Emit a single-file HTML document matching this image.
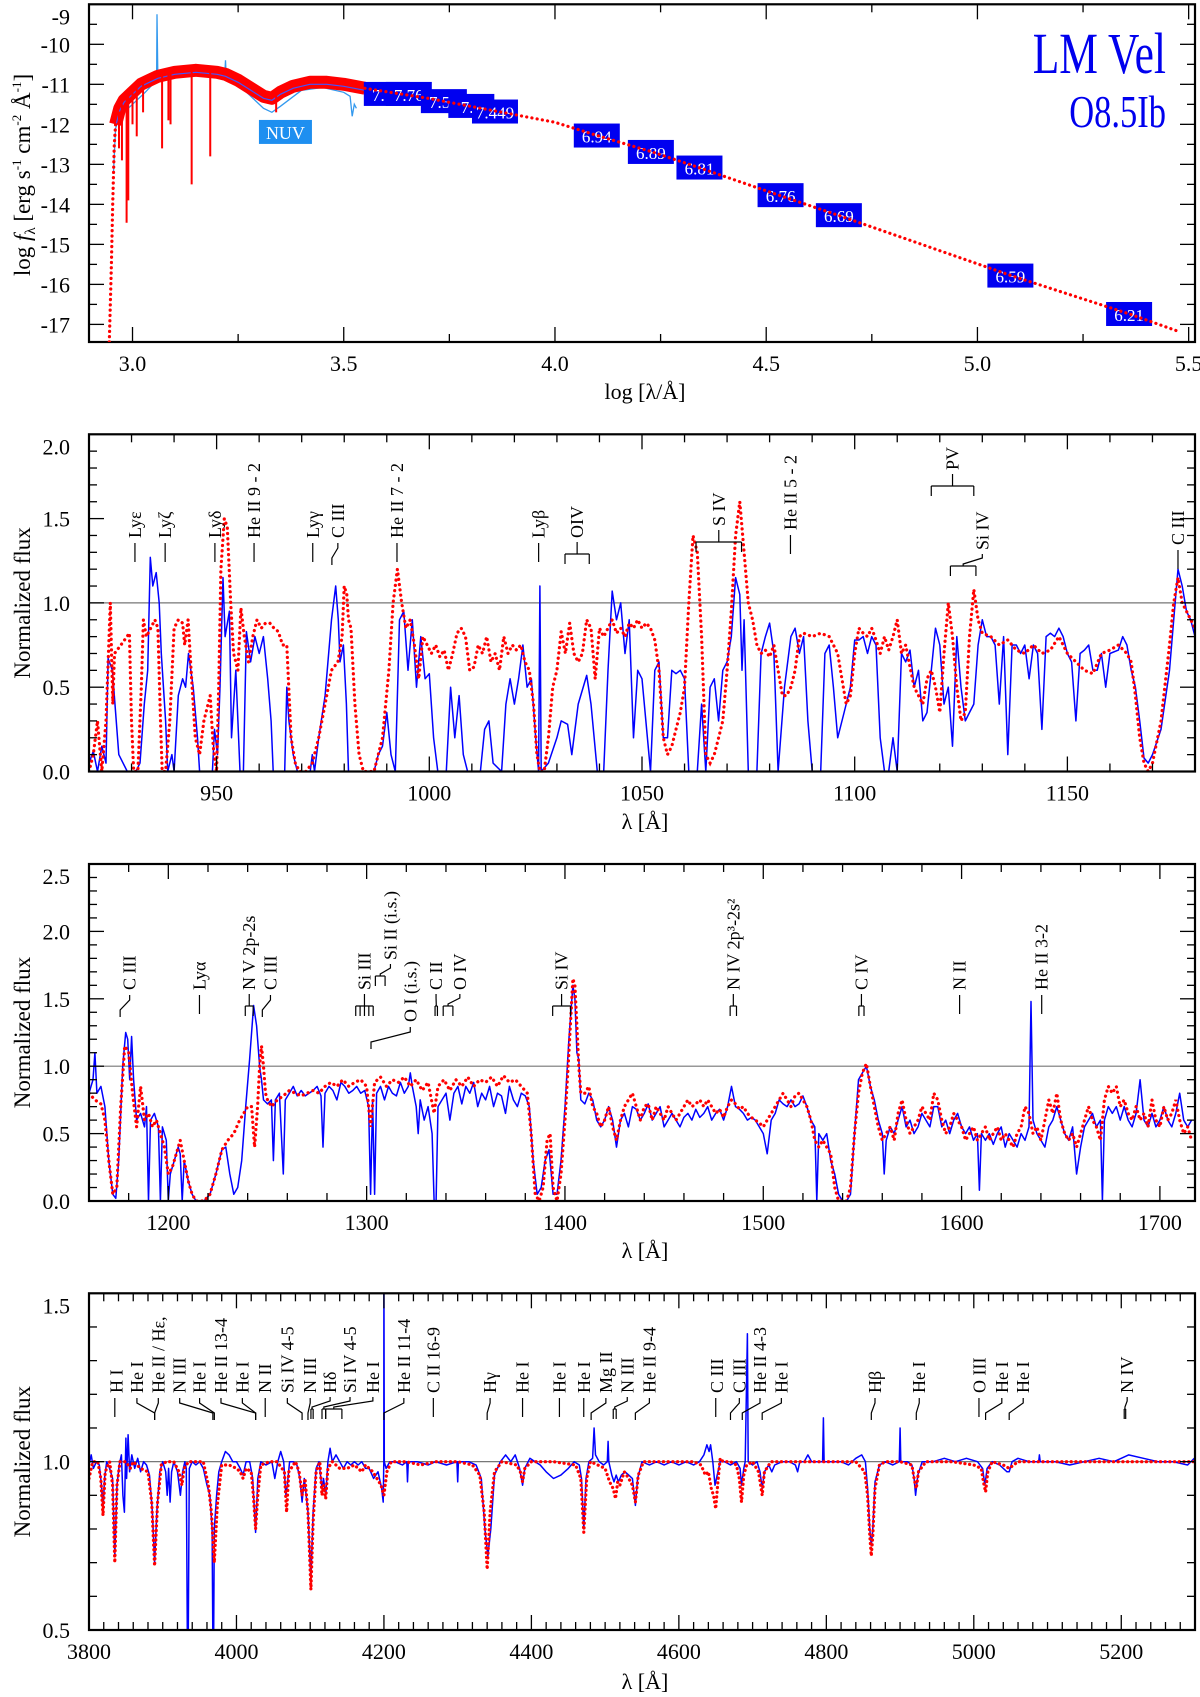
<!DOCTYPE html>
<html><head><meta charset="utf-8"><title>LM Vel SED and spectra</title>
<style>
html,body{margin:0;padding:0;background:#fff;}
svg{display:block;font-family:"Liberation Serif",serif;}
text{font-family:"Liberation Serif",serif;}
</style></head>
<body>
<svg id="fig" width="1200" height="1697" viewBox="0 0 1200 1697" font-family="Liberation Serif, serif" xmlns="http://www.w3.org/2000/svg"></svg>
<script>
// ---------------- Panel 1 (SED) data ----------------
const sedBandLogW=[2.96,2.965,2.97,2.98,2.99,3.0,3.02,3.04,3.06,3.08,3.1,3.15,3.2,3.22,3.25,3.28,3.31,3.33,3.35,3.38,3.42,3.46,3.5,3.55];
const sedBandLogF=[-12.0,-11.8,-11.6,-11.4,-11.3,-11.2,-11.0,-10.9,-10.8,-10.75,-10.7,-10.65,-10.7,-10.75,-10.9,-11.1,-11.3,-11.35,-11.2,-11.05,-10.95,-10.95,-11.0,-11.1];
const sedDipLogW=[2.968,2.975,2.986,2.99,3.0,3.01,3.025,3.07,3.085,3.09,3.14,3.184,3.34];
const sedDipLogF=[-12.6,-12.9,-14.46,-13.9,-12.0,-12.3,-11.7,-12.6,-11.9,-12.0,-13.5,-12.8,-11.7];
const sedRiseLogW=[2.945,2.95,2.953,2.957,2.96];
const sedRiseLogF=[-17.44,-15.5,-14.0,-12.5,-12.0];
const sedModelLogW=[3.55,3.7,3.85,4.0,4.1,4.23,4.34,4.53,4.67,5.08,5.36,5.48];
const sedModelLogF=[-11.1,-11.35,-11.65,-11.95,-12.28,-12.69,-13.08,-13.77,-14.27,-15.78,-16.74,-17.19];
const sedObsLogW=[2.955,2.96,2.97,2.98,3.0,3.03,3.057,3.058,3.06,3.1,3.15,3.2,3.218,3.22,3.222,3.25,3.28,3.31,3.33,3.35,3.4,3.45,3.5,3.515,3.52,3.525,3.53];
const sedObsLogF=[-13.2,-12.1,-11.8,-11.7,-11.5,-11.2,-10.9,-9.25,-10.9,-10.8,-10.75,-10.8,-10.85,-10.4,-10.85,-11.0,-11.3,-11.6,-11.7,-11.55,-11.15,-11.08,-11.2,-11.3,-11.8,-11.5,-11.6];
const photLogW=[3.602,3.654,3.737,3.802,3.858,4.099,4.227,4.342,4.534,4.672,5.078,5.359];
const photLogF=[-11.24,-11.24,-11.42,-11.54,-11.68,-12.28,-12.69,-13.08,-13.77,-14.27,-15.78,-16.74];
const photLabels=["7.71","7.76","7.57","7.7","7.449","6.94","6.89","6.81","6.76","6.69","6.59","6.21"];

// ---------------- Panel 2 (FUV 920-1180) data ----------------
const p2Obs=[[920,0.05],[921,0.12],[922,0.0],[923,0.15],[924,0.05],[924.5,0.67],[925.5,0.6],[927,0.1],[929,0.0],[931,0.0],[932,0.05],[933,0.4],[933.8,0.6],[934.4,1.27],[935,1.1],[935.8,1.18],[936.5,1.0],[937,0.7],[938,0.3],[938.5,0.0],[939.5,0.1],[940,0.0],[941,0.45],[942,0.55],[942.7,0.5],[943.4,0.7],[944.5,0.5],[945.5,0.2],[946,0.0],[949,0.0],[949.5,0.25],[950.2,0.1],[950.8,0.5],[951.5,1.15],[952,0.8],[953,0.95],[953.5,0.2],[954.5,0.6],[955.5,0.0],[956.3,0.0],[957,0.83],[958,0.65],[959,0.8],[960,0.7],[961,0.8],[962,0.55],[962.8,0.3],[963.3,0.0],[966,0.0],[966.5,0.5],[967,0.3],[968,0.1],[969,0.0],[972,0.0],[972.5,0.1],[973,0.0],[974,0.2],[975.5,0.45],[977,0.9],[978,1.1],[978.6,0.9],[979,0.65],[979.8,0.75],[980.5,0.4],[981,0.0],[987,0.0],[988,0.1],[989,0.15],[990,0.35],[991,0.1],[992,0.0],[993,0.9],[994,0.95],[995,0.6],[996,0.9],[997,0.5],[998,0.8],[999,0.55],[1000,0.58],[1001,0.2],[1002,0.0],[1004,0.0],[1005,0.5],[1006,0.2],[1007,0.45],[1008,0.1],[1009,0.0],[1012,0.0],[1013,0.25],[1014,0.3],[1015,0.05],[1017,0.0],[1018,0.4],[1019,0.55],[1020,0.4],[1021,0.55],[1022,0.75],[1023,0.5],[1024,0.55],[1025,0.2],[1025.7,0.0],[1026,1.1],[1026.3,0.0],[1028,0.05],[1030,0.2],[1031,0.3],[1032.5,0.28],[1033.5,0.1],[1035,0.4],[1037,0.57],[1038,0.4],[1039.5,0.0],[1041,0.0],[1042,0.6],[1043,1.07],[1044,0.9],[1045,1.0],[1046,0.7],[1047,0.9],[1048,0.2],[1049,0.6],[1050,0.55],[1052,0.0],[1053,0.6],[1054,0.65],[1055,0.2],[1056,0.2],[1057,0.6],[1058,0.58],[1059,0.6],[1060,0.55],[1061,0.0],[1063,0.0],[1064,0.4],[1065,0.0],[1066,0.5],[1067,0.55],[1068,0.3],[1069,0.6],[1070,0.65],[1071,0.8],[1072,1.15],[1073,1.05],[1073.5,0.6],[1074,0.9],[1075,0.0],[1077,0.0],[1078,0.7],[1079,0.8],[1080,0.88],[1081,0.7],[1082,0.0],[1083.5,0.5],[1085,0.8],[1086,0.85],[1087,0.7],[1088,0.8],[1089,0.3],[1090,0.0],[1092,0.0],[1093,0.7],[1094,0.75],[1095,0.5],[1096,0.2],[1097.5,0.35],[1099,0.5],[1100,0.78],[1101,0.78],[1102,0.8],[1103,0.7],[1104,0.8],[1105,0.75],[1106,0.2],[1107,0.0],[1108,0.0],[1109,0.2],[1110,0.0],[1111,0.7],[1112,0.65],[1113,0.72],[1114,0.5],[1115,0.6],[1116,0.3],[1117,0.35],[1118,0.6],[1119,0.85],[1120,0.75],[1121,0.4],[1122,0.5],[1123,0.15],[1124,0.8],[1125,0.5],[1126,0.3],[1127,0.35],[1128,0.4],[1129,0.75],[1130,0.9],[1131,0.8],[1132,0.8],[1133,0.75],[1134,0.4],[1135,0.8],[1136,0.1],[1137,0.75],[1138,0.75],[1139,0.7],[1140,0.75],[1141,0.55],[1142,0.75],[1143,0.7],[1144,0.25],[1145,0.8],[1146,0.82],[1147,0.8],[1148,0.85],[1149,0.8],[1150,0.7],[1151,0.65],[1152,0.3],[1153,0.7],[1154,0.72],[1155,0.75],[1156,0.6],[1157,0.6],[1158,0.7],[1159,0.5],[1160,0.7],[1162,0.72],[1163,0.8],[1164,0.75],[1165,0.6],[1166,0.5],[1167,0.3],[1168,0.08],[1169,0.05],[1170,0.1],[1172,0.25],[1174,0.6],[1175,0.9],[1176,1.2],[1177,1.1],[1178,0.95],[1179,0.9],[1180,0.8]];
const p2Model=[[920,0.0],[921,0.1],[922,0.3],[923,0.0],[924,0.3],[925,1.0],[925.6,0.4],[926,0.7],[927.5,0.75],[929.5,0.82],[930,0.3],[930.5,0.0],[931.5,0.0],[932.3,0.5],[932.8,0.9],[933.5,0.8],[934.5,0.85],[935.5,0.9],[936.2,0.85],[936.8,0.3],[937.2,0.0],[938,0.0],[939,0.3],[940,0.85],[941,0.9],[942,0.88],[942.5,0.75],[943.3,0.9],[944,0.6],[945,0.2],[946,0.1],[947,0.3],[948.5,0.45],[949.2,0.15],[950,0.0],[950.5,0.5],[951,1.2],[951.8,1.5],[952.5,1.45],[953.3,1.0],[954,0.7],[955,0.6],[955.7,0.97],[956.5,0.8],[957.5,0.65],[958.5,0.8],[959.5,0.9],[960.5,0.85],[961.5,0.88],[962.5,0.88],[963.5,0.85],[964.5,0.83],[965.5,0.75],[966.5,0.75],[967.5,0.2],[968.5,0.05],[969.5,0.0],[971,0.0],[972.5,0.05],[974,0.2],[975.5,0.4],[977,0.6],[978.5,0.65],[979.5,0.8],[980,1.1],[980.6,1.05],[981,0.9],[981.6,0.85],[982.5,0.4],[983.5,0.1],[984.5,0.0],[987,0.0],[989,0.2],[990.5,0.6],[991.5,1.0],[992.5,1.2],[993.5,1.0],[994.5,0.85],[995.5,0.9],[996.5,0.75],[997.5,0.55],[998.5,0.8],[999.5,0.75],[1000.5,0.7],[1001.5,0.75],[1002.5,0.68],[1003.5,0.72],[1004.5,0.6],[1005.5,0.7],[1006.5,0.82],[1007.5,0.85],[1008.5,0.8],[1009.5,0.6],[1010.5,0.62],[1011.5,0.75],[1012.5,0.7],[1013.5,0.8],[1014.5,0.65],[1015.5,0.7],[1016.5,0.6],[1017.5,0.8],[1018.5,0.7],[1019.5,0.75],[1020.5,0.72],[1021.5,0.75],[1022.5,0.65],[1023.5,0.6],[1024.5,0.4],[1025.3,0.1],[1026,0.0],[1027,0.0],[1028,0.2],[1029,0.5],[1030,0.6],[1031,0.83],[1032,0.7],[1033,0.88],[1034,0.7],[1035,0.65],[1036,0.7],[1037,0.9],[1038,0.85],[1039,0.55],[1040,0.85],[1041,0.8],[1042,0.85],[1043,0.9],[1044,0.82],[1045,0.85],[1046,0.8],[1047,0.88],[1048,0.85],[1049,0.9],[1050,0.85],[1051,0.88],[1052,0.85],[1053,0.78],[1054,0.6],[1055,0.2],[1056,0.1],[1057,0.15],[1058,0.25],[1059,0.35],[1060,0.5],[1061,1.0],[1062,1.4],[1063,1.3],[1064,0.8],[1065,0.1],[1066,0.05],[1067,0.1],[1068,0.2],[1069,0.3],[1070,0.6],[1071,0.95],[1072,1.4],[1073,1.6],[1074,1.3],[1075,1.0],[1076,0.9],[1077,0.75],[1078,0.7],[1079,0.72],[1080,0.68],[1081,0.75],[1082,0.6],[1083,0.45],[1084,0.45],[1085,0.5],[1086,0.6],[1087,0.8],[1088,0.82],[1090,0.8],[1092,0.82],[1094,0.8],[1096,0.7],[1097,0.55],[1098,0.4],[1099,0.45],[1100,0.7],[1101,0.85],[1102,0.82],[1103,0.8],[1104,0.85],[1105,0.78],[1106,0.7],[1107,0.8],[1108,0.72],[1109,0.8],[1110,0.9],[1111,0.7],[1112,0.75],[1113,0.62],[1114,0.5],[1115,0.45],[1116,0.4],[1117,0.55],[1118,0.6],[1119,0.5],[1120,0.35],[1121,0.7],[1122,1.0],[1123,0.8],[1124,0.5],[1125,0.3],[1126,0.35],[1127,0.8],[1128,1.08],[1129,0.9],[1130,0.82],[1132,0.8],[1134,0.75],[1136,0.78],[1138,0.72],[1140,0.7],[1142,0.75],[1144,0.7],[1146,0.72],[1148,0.8],[1150,0.7],[1152,0.65],[1154,0.6],[1156,0.58],[1158,0.7],[1160,0.72],[1162,0.75],[1164,0.7],[1165,0.65],[1166,0.45],[1167,0.2],[1168,0.05],[1169,0.0],[1170,0.05],[1172,0.3],[1174,0.75],[1175,1.0],[1176,1.15],[1177,1.0],[1178,0.95],[1180,0.85]];
const p2Labels=[
 {w:930.8,t:"Lyε"},{w:937.9,t:"Lyζ"},{w:949.6,t:"Lyδ"},{w:958.8,t:"He II 9 - 2"},
 {w:972.6,t:"Lyγ"},{w:977.1,t:"C III",tw:978.5},{w:992.4,t:"He II 7 - 2"},{w:1025.7,t:"Lyβ"},
 {w:[1031.9,1037.6],t:"OIV"},{w:[1062.7,1073.4],t:"S IV",tb:526},{w:1084.9,t:"He II 5 - 2",tb:530},
 {w:[1118,1128],t:"PV",tb:470},{w:[1122.5,1128.5],t:"Si IV",tb:550,tw:1130},{w:1176,t:"C III",tb:545}];

// ---------------- Panel 3 (UV 1160-1718) data ----------------
const p3Obs=[[1160,0.8],[1162,0.9],[1163,1.1],[1164,0.8],[1166,0.85],[1168,0.7],[1170,0.3],[1172,0.05],[1173.5,0.02],[1175,0.3],[1177,1.0],[1178.5,1.25],[1179.5,1.2],[1180.5,0.9],[1181.5,1.22],[1182.5,0.9],[1184,0.6],[1186,0.65],[1188,0.55],[1189,0.7],[1190,0.0],[1191,0.6],[1193,0.65],[1195,0.55],[1196,0.0],[1197,0.55],[1199,0.45],[1200,0.0],[1201,0.2],[1203,0.3],[1205,0.4],[1206,0.35],[1207,0.0],[1208,0.3],[1210,0.15],[1212,0.05],[1214,0.0],[1218,0.0],[1221,0.05],[1224,0.2],[1227,0.38],[1229,0.4],[1231,0.2],[1233,0.05],[1235,0.1],[1237,0.3],[1239,0.7],[1241,1.05],[1243,1.45],[1244.5,1.3],[1246,1.0],[1247,0.9],[1248,0.75],[1250,0.72],[1252,0.75],[1253,0.3],[1254,0.75],[1256,0.8],[1258,0.2],[1259,0.75],[1261,0.8],[1263,0.85],[1265,0.78],[1267,0.82],[1269,0.78],[1271,0.8],[1273,0.82],[1275,0.85],[1277,0.78],[1278,0.4],[1279,0.8],[1281,0.85],[1283,0.82],[1285,0.75],[1287,0.88],[1289,0.85],[1291,0.8],[1293,0.82],[1295,0.85],[1297,0.8],[1299,0.82],[1301,0.7],[1302,0.05],[1303,0.75],[1304,0.05],[1305,0.8],[1307,0.85],[1309,0.75],[1311,0.85],[1313,0.8],[1315,0.78],[1317,0.88],[1319,0.8],[1321,0.85],[1322,0.95],[1323,0.85],[1325,0.7],[1326,0.5],[1327,0.75],[1329,0.6],[1331,0.7],[1333,0.5],[1334,0.0],[1335,0.0],[1336,0.7],[1338,0.75],[1340,0.8],[1342,0.6],[1344,0.8],[1346,0.85],[1348,0.72],[1350,0.85],[1352,0.8],[1354,0.88],[1356,0.7],[1358,0.8],[1360,0.75],[1362,0.85],[1364,0.7],[1366,0.8],[1368,0.78],[1370,0.65],[1372,0.85],[1374,0.75],[1376,0.7],[1378,0.8],[1380,0.78],[1382,0.7],[1384,0.3],[1386,0.05],[1388,0.1],[1390,0.3],[1392,0.38],[1394,0.05],[1396,0.05],[1398,0.3],[1400,0.7],[1402,1.2],[1404,1.6],[1405,1.5],[1406,1.1],[1407,1.05],[1408,0.75],[1410,0.72],[1412,0.8],[1414,0.75],[1416,0.6],[1418,0.55],[1420,0.6],[1422,0.7],[1424,0.6],[1426,0.4],[1428,0.6],[1430,0.65],[1432,0.55],[1434,0.7],[1436,0.68],[1438,0.6],[1440,0.65],[1442,0.72],[1444,0.6],[1446,0.65],[1448,0.7],[1450,0.55],[1452,0.6],[1454,0.65],[1456,0.6],[1458,0.55],[1460,0.62],[1462,0.65],[1464,0.6],[1466,0.68],[1468,0.62],[1470,0.65],[1472,0.7],[1474,0.6],[1476,0.65],[1478,0.68],[1480,0.6],[1482,0.7],[1484,0.85],[1486,0.7],[1488,0.68],[1490,0.65],[1492,0.6],[1494,0.62],[1496,0.6],[1498,0.55],[1500,0.5],[1502,0.35],[1504,0.6],[1506,0.65],[1508,0.75],[1510,0.72],[1512,0.7],[1514,0.75],[1516,0.7],[1518,0.72],[1520,0.78],[1522,0.7],[1524,0.6],[1526,0.55],[1527,0.0],[1528,0.5],[1530,0.45],[1532,0.5],[1534,0.3],[1536,0.2],[1538,0.05],[1540,0.0],[1542,0.0],[1544,0.05],[1546,0.5],[1548,0.9],[1550,0.95],[1552,1.0],[1554,0.85],[1556,0.75],[1558,0.6],[1560,0.5],[1561,0.2],[1562,0.45],[1564,0.55],[1566,0.5],[1568,0.6],[1570,0.7],[1572,0.55],[1574,0.6],[1576,0.5],[1578,0.55],[1580,0.65],[1582,0.6],[1584,0.55],[1586,0.7],[1588,0.7],[1590,0.55],[1592,0.6],[1594,0.5],[1596,0.6],[1598,0.65],[1600,0.55],[1602,0.5],[1604,0.55],[1606,0.45],[1608,0.5],[1609,0.08],[1610,0.5],[1612,0.45],[1614,0.5],[1616,0.42],[1618,0.5],[1620,0.55],[1622,0.4],[1624,0.5],[1626,0.45],[1628,0.4],[1630,0.5],[1632,0.45],[1634,0.55],[1635,1.48],[1636,0.6],[1638,0.5],[1640,0.45],[1642,0.4],[1644,0.55],[1646,0.6],[1648,0.7],[1650,0.6],[1652,0.5],[1654,0.45],[1656,0.55],[1658,0.2],[1660,0.4],[1662,0.55],[1664,0.6],[1666,0.65],[1668,0.55],[1670,0.6],[1671,0.0],[1672,0.6],[1674,0.7],[1676,0.65],[1678,0.7],[1680,0.6],[1682,0.7],[1684,0.6],[1686,0.55],[1688,0.65],[1690,0.9],[1692,0.6],[1694,0.55],[1696,0.65],[1698,0.55],[1700,0.6],[1702,0.7],[1704,0.6],[1706,0.55],[1708,0.65],[1710,0.8],[1712,0.6],[1714,0.55],[1716,0.6]];
const p3Model=[[1160,0.8],[1163,0.75],[1166,0.72],[1168,0.6],[1170,0.3],[1172,0.05],[1174,0.1],[1176,0.7],[1178,1.15],[1180,1.1],[1182,0.8],[1184,0.55],[1186,0.85],[1188,0.6],[1190,0.65],[1192,0.55],[1194,0.6],[1196,0.5],[1198,0.4],[1200,0.2],[1202,0.25],[1204,0.35],[1206,0.45],[1208,0.3],[1210,0.15],[1212,0.05],[1214,0.0],[1218,0.0],[1221,0.05],[1224,0.2],[1227,0.38],[1230,0.45],[1233,0.5],[1236,0.6],[1238,0.65],[1240,0.7],[1242,0.7],[1243.5,0.4],[1245,0.7],[1246,1.0],[1247,1.15],[1248,1.0],[1249,0.8],[1250,0.75],[1252,0.7],[1255,0.75],[1258,0.78],[1261,0.82],[1264,0.8],[1267,0.78],[1270,0.8],[1273,0.82],[1276,0.8],[1279,0.85],[1282,0.88],[1285,0.85],[1288,0.9],[1291,0.85],[1294,0.88],[1297,0.9],[1300,0.85],[1302,0.55],[1304,0.88],[1307,0.92],[1310,0.85],[1313,0.9],[1316,0.88],[1319,0.92],[1322,0.85],[1325,0.9],[1328,0.82],[1331,0.88],[1334,0.65],[1336,0.85],[1339,0.9],[1342,0.82],[1345,0.9],[1348,0.85],[1351,0.92],[1354,0.85],[1357,0.9],[1360,0.88],[1363,0.92],[1366,0.85],[1369,0.93],[1372,0.88],[1375,0.9],[1378,0.85],[1381,0.8],[1383,0.5],[1385,0.05],[1387,0.0],[1389,0.1],[1391,0.45],[1392.5,0.5],[1394,0.1],[1396,0.0],[1398,0.2],[1400,0.6],[1402,1.1],[1404,1.65],[1405,1.6],[1406,1.3],[1407,1.0],[1408,0.8],[1410,0.8],[1412,0.85],[1414,0.7],[1416,0.65],[1418,0.55],[1420,0.6],[1422,0.7],[1424,0.55],[1426,0.45],[1428,0.6],[1430,0.7],[1432,0.75],[1434,0.8],[1436,0.7],[1438,0.6],[1440,0.7],[1442,0.72],[1444,0.6],[1446,0.7],[1448,0.65],[1450,0.6],[1452,0.7],[1454,0.65],[1456,0.6],[1458,0.65],[1460,0.7],[1462,0.75],[1464,0.7],[1466,0.72],[1468,0.75],[1470,0.7],[1472,0.75],[1474,0.7],[1476,0.65],[1478,0.68],[1480,0.62],[1482,0.7],[1484,0.75],[1486,0.72],[1488,0.68],[1490,0.7],[1492,0.65],[1494,0.62],[1496,0.6],[1498,0.58],[1500,0.55],[1502,0.6],[1504,0.65],[1506,0.7],[1508,0.75],[1510,0.8],[1512,0.75],[1514,0.7],[1516,0.78],[1518,0.8],[1520,0.75],[1522,0.7],[1524,0.6],[1526,0.45],[1528,0.4],[1530,0.45],[1532,0.4],[1534,0.35],[1536,0.1],[1538,0.0],[1542,0.0],[1544,0.1],[1546,0.5],[1548,0.8],[1550,0.95],[1552,1.02],[1554,0.85],[1556,0.7],[1558,0.55],[1560,0.45],[1562,0.5],[1564,0.55],[1566,0.45],[1568,0.65],[1570,0.75],[1572,0.6],[1574,0.5],[1576,0.55],[1578,0.6],[1580,0.7],[1582,0.65],[1584,0.6],[1586,0.8],[1588,0.75],[1590,0.6],[1592,0.5],[1594,0.55],[1596,0.65],[1598,0.6],[1600,0.55],[1602,0.45],[1604,0.5],[1606,0.55],[1608,0.45],[1610,0.5],[1612,0.55],[1614,0.45],[1616,0.5],[1618,0.55],[1620,0.45],[1622,0.5],[1624,0.45],[1626,0.4],[1628,0.5],[1630,0.55],[1632,0.7],[1634,0.65],[1636,0.5],[1638,0.55],[1640,0.45],[1642,0.6],[1644,0.75],[1646,0.65],[1648,0.8],[1650,0.6],[1652,0.5],[1654,0.45],[1656,0.5],[1658,0.4],[1660,0.5],[1662,0.6],[1664,0.7],[1666,0.6],[1668,0.55],[1670,0.45],[1672,0.75],[1674,0.85],[1676,0.8],[1678,0.85],[1680,0.7],[1682,0.75],[1684,0.65],[1686,0.6],[1688,0.7],[1690,0.6],[1692,0.65],[1694,0.55],[1696,0.75],[1698,0.6],[1700,0.55],[1702,0.7],[1704,0.6],[1706,0.65],[1708,0.75],[1710,0.6],[1712,0.5],[1714,0.55],[1716,0.45]];
const p3Labels=[
 {w:1175.7,t:"C III",tw:1180.5},{w:1215.7,t:"Lyα"},{w:[1238.8,1242.8],t:"N V 2p-2s"},{w:1247.4,t:"C III",tw:1251.5},
 {w:[1294.5,1296.7,1298.9,1301.1,1303.3],t:"Si III"},{w:[1304.4,1309.3],t:"Si II (i.s.)",tb:960,tw:1312},
 {w:1302.2,t:"O I (i.s.)",tb:1022,tw:1322},{w:[1334.5,1335.7],t:"C II",tw:1335},{w:[1338.6,1343.5],t:"O IV",tw:1347},
 {w:[1393.8,1402.8],t:"Si IV"},{w:[1483.3,1486.5],t:"N IV 2p³-2s²"},{w:[1548.2,1550.8],t:"C IV"},{w:1599,t:"N II"},{w:1640.4,t:"He II 3-2"}];

// ---------------- Panel 4 (optical 3800-5300) data ----------------
const p4Obs=[[3800,0.99],[3803,1.02],[3806,0.98],[3810,1.0],[3814,0.99],[3817,0.93],[3819,0.85],[3821,0.95],[3824,1.0],[3828,0.98],[3832,0.95],[3835,0.72],[3838,0.93],[3841,0.99],[3844,1.02],[3846,0.9],[3848,0.85],[3850,1.07],[3851,0.95],[3853,1.08],[3855,0.97],[3858,1.02],[3862,0.98],[3866,1.01],[3870,0.97],[3874,1.0],[3878,0.99],[3882,0.96],[3886,0.85],[3889,0.7],[3892,0.85],[3896,0.97],[3900,1.0],[3904,0.97],[3906,0.9],[3908,0.98],[3910,0.88],[3912,0.97],[3915,1.0],[3920,0.97],[3924,0.9],[3927,0.97],[3930,1.0],[3932,0.98],[3933.5,0.45],[3934.5,0.45],[3936,0.98],[3940,1.0],[3945,0.99],[3950,1.0],[3955,0.98],[3960,0.93],[3964,0.9],[3967,0.8],[3968,0.45],[3969,0.45],[3970,0.8],[3973,0.9],[3976,0.97],[3980,1.0],[3985,1.03],[3990,1.02],[3995,1.0],[4000,1.0],[4005,0.98],[4009,0.96],[4013,1.0],[4018,1.0],[4022,0.95],[4026,0.79],[4029,0.95],[4033,1.0],[4040,0.99],[4048,1.0],[4052,0.95],[4056,1.0],[4060,1.03],[4064,1.0],[4067,0.9],[4069,0.93],[4072,1.0],[4077,1.0],[4082,0.99],[4086,0.95],[4089,0.88],[4092,0.95],[4097,0.85],[4101,0.65],[4104,0.85],[4108,0.98],[4112,1.0],[4116,0.92],[4118,0.95],[4121,0.9],[4124,1.0],[4127,1.04],[4130,1.0],[4135,1.02],[4140,1.0],[4145,0.98],[4150,1.0],[4155,0.99],[4160,1.0],[4165,0.99],[4170,1.0],[4175,0.98],[4180,0.98],[4186,0.95],[4192,0.97],[4197,0.92],[4199,0.88],[4199.8,1.0],[4200,1.6],[4200.5,1.0],[4203,0.98],[4208,1.0],[4215,1.0],[4225,0.99],[4231,1.0],[4232,0.94],[4233,1.0],[4245,1.0],[4260,0.99],[4270,1.0],[4285,0.99],[4299,1.0],[4300,0.94],[4301,1.0],[4315,1.0],[4325,0.99],[4332,0.95],[4337,0.8],[4341,0.72],[4345,0.8],[4350,0.96],[4358,1.0],[4365,1.02],[4372,1.0],[4378,1.02],[4384,0.98],[4388,0.93],[4391,0.98],[4398,1.01],[4405,1.0],[4412,0.99],[4420,0.97],[4430,0.95],[4440,0.96],[4450,0.98],[4458,1.0],[4465,0.99],[4468,0.95],[4471,0.8],[4474,0.95],[4478,1.0],[4483,1.01],[4485,1.1],[4487,1.02],[4492,1.0],[4498,0.99],[4503,1.0],[4504,1.06],[4505,1.0],[4509,0.96],[4512,0.94],[4515,0.96],[4518,0.94],[4522,0.96],[4527,0.97],[4532,0.96],[4537,0.95],[4541,0.87],[4544,0.95],[4550,1.0],[4560,0.99],[4570,1.0],[4580,0.99],[4590,1.0],[4600,0.99],[4610,1.0],[4620,0.99],[4628,1.0],[4634,1.02],[4638,1.05],[4641,1.03],[4643,1.05],[4646,1.0],[4649,0.93],[4652,0.96],[4656,1.0],[4662,1.0],[4670,0.99],[4678,1.0],[4683,0.98],[4685,0.93],[4688,0.98],[4690,1.0],[4693,1.38],[4694,1.0],[4700,0.99],[4706,1.0],[4710,0.97],[4713,0.92],[4716,0.97],[4722,0.99],[4726,0.97],[4730,0.99],[4740,1.0],[4750,1.0],[4758,0.99],[4761,0.97],[4764,1.0],[4770,1.0],[4775,1.02],[4780,1.0],[4790,1.0],[4795,1.0],[4796,1.13],[4797,1.0],[4810,1.0],[4820,1.0],[4830,0.99],[4840,1.01],[4848,1.02],[4853,1.0],[4856,0.92],[4859,0.8],[4861,0.75],[4863,0.8],[4866,0.94],[4872,0.99],[4880,1.0],[4890,0.99],[4899,1.0],[4900,1.1],[4901,1.0],[4910,1.0],[4916,0.99],[4919,0.95],[4921,0.9],[4924,0.96],[4930,1.0],[4945,1.0],[4960,1.01],[4975,1.0],[4990,1.01],[5005,1.0],[5012,0.98],[5015,0.93],[5018,0.98],[5025,1.0],[5035,0.99],[5045,0.97],[5048,0.97],[5052,1.0],[5060,1.01],[5075,1.0],[5088,1.0],[5089,1.02],[5090,1.0],[5110,1.0],[5130,0.99],[5150,1.0],[5170,1.01],[5190,1.0],[5210,1.02],[5230,1.01],[5250,1.0],[5270,1.0],[5290,0.99],[5299,1.01]];
const p4Model=[[3800,0.95],[3805,1.0],[3812,1.0],[3816,0.95],[3819,0.84],[3822,0.97],[3828,1.0],[3832,0.93],[3835,0.7],[3838,0.93],[3842,1.0],[3850,1.0],[3856,0.98],[3860,1.0],[3870,0.98],[3880,0.97],[3885,0.88],[3889,0.69],[3893,0.88],[3898,0.99],[3905,1.0],[3915,1.0],[3922,0.97],[3926,0.93],[3929,0.98],[3935,1.0],[3945,1.0],[3955,1.0],[3962,0.93],[3966,0.85],[3970,0.7],[3974,0.87],[3980,0.99],[3990,0.99],[4000,0.98],[4005,0.97],[4009,0.95],[4013,0.98],[4020,0.97],[4023,0.9],[4026,0.8],[4029,0.9],[4033,0.99],[4045,1.0],[4055,1.0],[4065,0.97],[4068,0.85],[4071,0.97],[4080,1.0],[4085,0.97],[4089,0.9],[4093,0.95],[4097,0.85],[4101,0.62],[4104,0.82],[4108,0.97],[4113,1.0],[4116,0.9],[4118,0.93],[4121,0.89],[4124,0.98],[4130,1.0],[4140,0.98],[4150,0.98],[4160,0.99],[4170,0.97],[4175,0.99],[4185,0.97],[4196,0.93],[4200,0.9],[4204,0.97],[4210,1.0],[4230,1.0],[4250,0.99],[4270,1.0],[4300,1.0],[4320,0.99],[4330,0.96],[4336,0.85],[4340,0.68],[4344,0.85],[4350,0.97],[4360,1.0],[4380,0.99],[4385,0.97],[4388,0.94],[4391,0.98],[4400,1.0],[4430,1.0],[4460,0.99],[4467,0.95],[4471,0.79],[4475,0.95],[4480,1.0],[4490,0.99],[4500,0.98],[4506,0.94],[4511,0.92],[4514,0.89],[4517,0.94],[4520,0.93],[4526,0.97],[4532,0.95],[4537,0.93],[4541,0.88],[4545,0.96],[4552,1.0],[4580,1.0],[4610,1.0],[4620,1.0],[4630,0.99],[4636,0.96],[4640,0.97],[4644,0.92],[4647,0.9],[4650,0.86],[4653,0.94],[4656,1.01],[4660,1.0],[4670,1.0],[4678,0.99],[4682,0.95],[4685,0.88],[4688,0.96],[4692,0.99],[4700,1.0],[4708,0.97],[4713,0.9],[4716,0.97],[4725,1.0],[4760,1.0],[4800,1.0],[4840,1.0],[4852,0.97],[4856,0.9],[4859,0.78],[4861,0.72],[4863,0.78],[4866,0.92],[4872,0.99],[4880,1.0],[4900,1.0],[4916,0.99],[4919,0.95],[4922,0.92],[4925,0.97],[4935,1.0],[4970,1.0],[5000,0.99],[5010,0.98],[5013,0.94],[5016,0.91],[5019,0.97],[5025,1.0],[5040,0.99],[5048,0.98],[5060,1.0],[5100,1.0],[5150,1.0],[5200,1.0],[5250,1.0],[5300,1.0]];
const p4Labels=[
 {w:3835,t:"H I",tw:3837},{w:3889,t:"He I",tw:3865},{w:3889,t:"He II / Hε,",tw:3894},{w:3968,t:"N III",tw:3923},
 {w:3970,t:"He I",tw:3950},{w:4026,t:"He II 13-4",tw:3979},{w:4026,t:"He I",tw:4008},{w:4039,t:"N II"},
 {w:4089,t:"Si IV 4-5",tw:4069},{w:4097,t:"N III",tw:4100},{w:[4101,4104],t:"Hδ",tw:4127},{w:[4116,4121],t:"Si IV 4-5",tw:4154},
 {w:[4121,4143],t:"He I",tw:4185},{w:4200,t:"He II 11-4",tw:4227},{w:4267,t:"C II 16-9"},{w:4340,t:"Hγ",tw:4344},
 {w:4388,t:"He I"},{w:4438,t:"He I"},{w:4471,t:"He I"},{w:4481,t:"Mg II",tw:4501},{w:[4511,4515],t:"N III",tw:4530},
 {w:4541,t:"He II 9-4",tw:4560},{w:4650,t:"C III",tw:4652},{w:4670,t:"C III",tw:4682},{w:4686,t:"He II 4-3",tw:4710},
 {w:4713,t:"He I",tw:4739},{w:4861,t:"Hβ",tw:4866},{w:4922,t:"He I",tw:4926},{w:5007,t:"O III",tw:5008},
 {w:5016,t:"He I",tw:5038},{w:5048,t:"He I",tw:5067},{w:[5204,5206],t:"N IV",tw:5208}];

// ---------------- drawing ----------------
const NS="http://www.w3.org/2000/svg";
const svg=document.getElementById("fig");
const FONT="Liberation Serif, serif";
function lin(d0,d1,p0,p1){return v=>p0+(v-d0)*(p1-p0)/(d1-d0);}
function mk(tag,attrs,parent){const e=document.createElementNS(NS,tag);for(const k in attrs)e.setAttribute(k,attrs[k]);if(tag==="text")e.setAttribute("font-family",FONT);(parent||svg).appendChild(e);return e;}
function fmt(v,dec){return v.toFixed(dec);}
function interp(xs,ys,x){for(let i=1;i<xs.length;i++){if(x<=xs[i]){const t=(x-xs[i-1])/(xs[i]-xs[i-1]);return ys[i-1]+t*(ys[i]-ys[i-1]);}}return ys[ys.length-1];}

const panels={
 p1:{x0:89,x1:1195,y0:4.3,y1:342,dx:[2.897,5.515],dy:[-9,-17.44]},
 p2:{x0:89,x1:1195,y0:434.3,y1:771.5,dx:[920,1180],dy:[2.0,0]},
 p3:{x0:89,x1:1195,y0:864,y1:1201,dx:[1160,1717.7],dy:[2.5,0]},
 p4:{x0:89,x1:1195,y0:1293.3,y1:1630,dx:[3800,5300],dy:[1.5,0.5]}
};
for(const k in panels){const p=panels[k];p.X=lin(p.dx[0],p.dx[1],p.x0,p.x1);p.Y=lin(p.dy[0],p.dy[1],p.y0,p.y1);
 const cp=mk("clipPath",{id:"clip-"+k});mk("rect",{x:p.x0,y:p.y0,width:p.x1-p.x0,height:p.y1-p.y0},cp);}

function linePath(p,xs,ys,attrs,name,clip){
 let d="";for(let i=0;i<xs.length;i++){d+=(i?"L":"M")+p.X(xs[i]).toFixed(1)+","+p.Y(ys[i]).toFixed(1);}
 const a=Object.assign({d:d,fill:"none"},attrs);if(clip)a["clip-path"]="url(#clip-"+clip+")";
 const el=mk("path",a);
 
 
 return el;}
function pairPath(p,pairs,attrs,name,clip){return linePath(p,pairs.map(q=>q[0]),pairs.map(q=>q[1]),attrs,name,clip);}

const dotted={stroke:"#ff0000","stroke-width":3.2,"stroke-dasharray":"0.1 5.2","stroke-linecap":"round"};
const blueLine={stroke:"#0000ff","stroke-width":1.5,"stroke-linejoin":"round"};

function axes(key,xt,yt,xlbl,ylbl,xdec,ydec,xTitle,xTitleY){
 const p=panels[key];
 const g=mk("g",{});
 
 
 const tk=(x1,y1,x2,y2)=>mk("line",{x1:x1,y1:y1,x2:x2,y2:y2,stroke:"#000","stroke-width":1.3},g);
 const isMaj=(v,s,m)=>{const r=(v-s)/m;return Math.abs(r-Math.round(r))<1e-6;};
 const xsStart=xt.start-Math.floor((xt.start-p.dx[0])/xt.minor+1e-9)*xt.minor;
 for(let v=xsStart;v<=p.dx[1]+1e-9;v+=xt.minor){const x=p.X(v);if(x<p.x0-0.5||x>p.x1+0.5)continue;
  const maj=isMaj(v,xt.start,xt.major);const L=maj?15:8;
  tk(x,p.y1,x,p.y1-L);tk(x,p.y0,x,p.y0+L);
  if(maj&&xlbl){const t=mk("text",{x:x,y:p.y1+29,"text-anchor":"middle","font-size":22,fill:"#000"},g);t.textContent=fmt(v,xdec);
   
   }}
 const ye=Math.max(p.dy[0],p.dy[1]);
 for(let v=yt.start;v<=ye+1e-9;v+=yt.minor){const y=p.Y(v);if(y<p.y0-0.5||y>p.y1+0.5)continue;
  const maj=isMaj(v,yt.start,yt.major);const L=maj?15:8;
  tk(p.x0,y,p.x0+L,y);tk(p.x1,y,p.x1-L,y);
  if(maj&&ylbl){let ty=y+8;if(ty<p.y0+12)ty=p.y0+20;const t=mk("text",{x:70,y:ty,"text-anchor":"end","font-size":22,fill:"#000"},g);t.textContent=fmt(v,ydec);
   
   }}
 const fr=mk("rect",{x:p.x0,y:p.y0,width:p.x1-p.x0,height:p.y1-p.y0,fill:"none",stroke:"#000","stroke-width":2.2},g);
 
 
 const xt2=mk("text",{x:645,y:xTitleY,"text-anchor":"middle","font-size":22},g);xt2.textContent=xTitle;
 
 
}
function yTitle(key,txt){const p=panels[key];const cy=(p.y0+p.y1)/2;
 const t=mk("text",{transform:"translate(30,"+cy+") rotate(-90)","text-anchor":"middle","font-size":23});t.textContent=txt;
 
 return t;}
function unitLine(key){const p=panels[key];const el=mk("line",{x1:p.x0,x2:p.x1,y1:p.Y(1),y2:p.Y(1),stroke:"#777","stroke-width":1.2});
 
 }

function labels(key,list,tbDefault){
 const p=panels[key];
 list.forEach(L=>{
  const g=mk("g",{stroke:"#000","stroke-width":1.2,fill:"none"});
  
  
  const tb=L.tb||tbDefault;
  const ws=Array.isArray(L.w)?L.w:[L.w];
  const xs=ws.map(w=>p.X(w));
  const xl=Math.min(...xs),xr=Math.max(...xs),xc=(xl+xr)/2;
  const xt=L.tw!==undefined?p.X(L.tw):xc;
  if(ws.length>1){
   const yb=tb+16;
   mk("line",{x1:xl,x2:xr,y1:yb,y2:yb},g);
   xs.forEach(x=>mk("line",{x1:x,x2:x,y1:yb,y2:yb+10},g));
   mk("polyline",{points:xt+","+(tb+4)+" "+xt+","+(tb+8)+" "+xc+","+(yb-2)+" "+xc+","+yb},g);
  }else if(Math.abs(xt-xc)>2){
   mk("polyline",{points:xt+","+(tb+5)+" "+xt+","+(tb+10)+" "+xc+","+(tb+20)+" "+xc+","+(tb+27)},g);
  }else{
   mk("line",{x1:xc,x2:xc,y1:tb+5,y2:tb+24},g);
  }
  const t=mk("text",{transform:"translate("+(xt+6)+","+tb+") rotate(-90)","font-size":18,fill:"#000",stroke:"none"},g);
  t.textContent=L.t;
 });
}

// ---------- Panel 1 ----------
(function(){
 const p=panels.p1;
 axes("p1",{start:3.0,major:0.5,minor:0.25},{start:-17,major:1,minor:0.5},true,true,1,0,"log [λ/Å]",399);
 const yt=mk("text",{transform:"translate(30,175) rotate(-90)","text-anchor":"middle","font-size":23});
 
 
 yt.innerHTML='log <tspan font-style="italic">f</tspan><tspan font-size="15" dy="5">λ</tspan><tspan dy="-5"> [erg s</tspan><tspan font-size="13" dy="-9">-1</tspan><tspan dy="9"> cm</tspan><tspan font-size="13" dy="-9">-2</tspan><tspan dy="9"> Å</tspan><tspan font-size="13" dy="-9">-1</tspan><tspan dy="9">]</tspan>';
 linePath(p,sedObsLogW,sedObsLogF,{stroke:"#3399ee","stroke-width":1.3},"sed-observed-uv","p1");
 linePath(p,sedBandLogW,sedBandLogF,{stroke:"#ff0000","stroke-width":13,"stroke-linejoin":"round"},"sed-model-band","p1");
 linePath(p,sedBandLogW,sedBandLogF.map(v=>v-0.05),{stroke:"#4455ff","stroke-width":1.2},"sed-observed-iue","p1");
 sedDipLogW.forEach((w,i)=>{const base=interp(sedBandLogW,sedBandLogF,w);
  const el=mk("line",{x1:p.X(w),x2:p.X(w),y1:p.Y(base),y2:p.Y(sedDipLogF[i]),stroke:"#ff0000","stroke-width":2});
  
  });
 const nb=mk("g",{});
 
 
 mk("rect",{x:p.X(3.362)-26.5,y:p.Y(-12.19)-12,width:53,height:24,fill:"#1e8ff0"},nb);
 const nt=mk("text",{x:p.X(3.362),y:p.Y(-12.19)+7,"text-anchor":"middle","font-size":18,fill:"#fff"},nb);nt.textContent="NUV";
 photLogW.forEach((w,i)=>{
  const g=mk("g",{});
  
  
  const cx=p.X(w),cy=p.Y(photLogF[i]);
  mk("rect",{x:cx-23,y:cy-12,width:46,height:24,fill:"#0000f0"},g);
  const t=mk("text",{x:cx,y:cy+7,"text-anchor":"middle","font-size":17,fill:"#fff"},g);t.textContent=photLabels[i];
 });
 linePath(p,sedRiseLogW,sedRiseLogF,dotted,"sed-model-rise","p1");
 linePath(p,sedModelLogW,sedModelLogF,dotted,"sed-model-dotted","p1");
 const t1=mk("text",{x:0,y:0,"text-anchor":"end","font-size":58,fill:"#0000ee",transform:"translate(1166,73) scale(0.75,1)"});t1.textContent="LM Vel";
 
 
 const t2=mk("text",{x:0,y:0,"text-anchor":"end","font-size":46,fill:"#0000ee",transform:"translate(1166,127) scale(0.75,1)"});t2.textContent="O8.5Ib";
 
 
})();

// ---------- Panel 2 ----------
(function(){
 const p=panels.p2;
 unitLine("p2");
 pairPath(p,p2Obs,blueLine,"p2-observed-spectrum","p2");
 pairPath(p,p2Model,dotted,"p2-model-spectrum","p2");
 axes("p2",{start:950,major:50,minor:10},{start:0,major:0.5,minor:0.1},true,true,0,1,"λ [Å]",829);
 yTitle("p2","Normalized flux");
 labels("p2",p2Labels,538);
})();
// ---------- Panel 3 ----------
(function(){
 const p=panels.p3;
 unitLine("p3");
 pairPath(p,p3Obs,blueLine,"p3-observed-spectrum","p3");
 pairPath(p,p3Model,dotted,"p3-model-spectrum","p3");
 axes("p3",{start:1200,major:100,minor:20},{start:0,major:0.5,minor:0.1},true,true,0,1,"λ [Å]",1258);
 yTitle("p3","Normalized flux");
 labels("p3",p3Labels,990);
})();
// ---------- Panel 4 ----------
(function(){
 const p=panels.p4;
 unitLine("p4");
 pairPath(p,p4Obs,blueLine,"p4-observed-spectrum","p4");
 pairPath(p,p4Model,Object.assign({},dotted,{"stroke-dasharray":"0.1 4.6"}),"p4-model-spectrum","p4");
 axes("p4",{start:3800,major:200,minor:20},{start:0.5,major:0.5,minor:0.1},true,true,0,1,"λ [Å]",1689);
 yTitle("p4","Normalized flux");
 labels("p4",p4Labels,1393);
})();
</script>
</body></html>
